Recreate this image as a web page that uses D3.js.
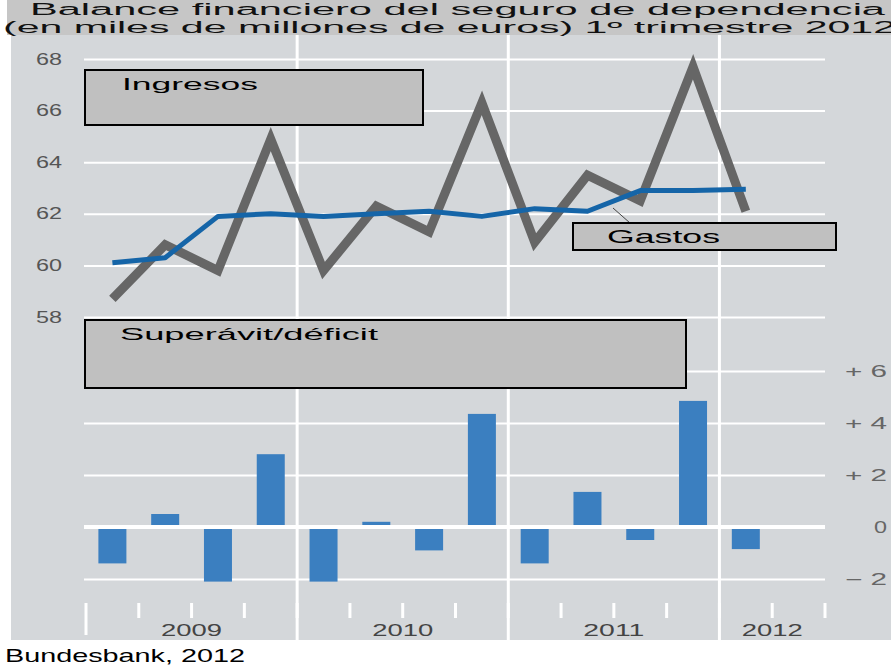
<!DOCTYPE html>
<html>
<head>
<meta charset="utf-8">
<script src="https://cdn.jsdelivr.net/npm/d3@7"></script>
<style>
  body { margin: 0; background: #fff; }
  svg { display: block; font-family: "Liberation Sans", Arial, sans-serif; }
</style>
</head>
<body>
<div id="chart"></div>
<script>
// quarters on the x axis (last one is empty)
const quarters = ["2009T1", "2009T2", "2009T3", "2009T4",
                  "2010T1", "2010T2", "2010T3", "2010T4",
                  "2011T1", "2011T2", "2011T3", "2011T4",
                  "2012T1", "2012T2"];
const years = ["2009", "2010", "2011", "2012"];

// miles de millones de euros
const ingresos = [58.7, 60.8, 59.8, 64.9, 59.8, 62.3, 61.3, 66.3, 60.9, 63.5, 62.5, 67.7, 62.1];
const gastos   = [60.1, 60.3, 61.9, 62.0, 61.9, 62.0, 62.1, 61.9, 62.2, 62.1, 62.9, 62.9, 62.95];
const saldo    = [-1.4, 0.5, -2.1, 2.8, -2.1, 0.2, -0.9, 4.35, -1.4, 1.35, -0.5, 4.85, -0.85];

const topTicks = [58, 60, 62, 64, 66, 68];
const barTicks = [-2, 0, 2, 4, 6];

const width = 891, height = 667;

const svg = d3.select("#chart").append("svg")
    .attr("width", width)
    .attr("height", height);

// stretch text horizontally to a given width
function fit(sel, w) {
    sel.attr("textLength", w).attr("lengthAdjust", "spacingAndGlyphs");
}

// backgrounds
svg.append("rect").attr("x", 7).attr("y", 0).attr("width", width - 7).attr("height", 35).attr("fill", "#c6c6c6");
svg.append("rect").attr("x", 11).attr("y", 35).attr("width", width - 11).attr("height", 605).attr("fill", "#d4d7da");

// title
svg.append("text").attr("x", 30).attr("y", 14.5).attr("font-size", 16).attr("fill", "#111")
    .text("Balance financiero del seguro de dependencia").call(fit, 855);
svg.append("text").attr("x", 3).attr("y", 32.5).attr("font-size", 16).attr("fill", "#111")
    .text("(en miles de millones de euros) 1º trimestre 2012").call(fit, 893);

// scales
const x = d3.scaleBand().domain(quarters).range([86, 825]);
const yTop = d3.scaleLinear().domain([58, 68]).range([317, 59]);
const yBar = d3.scaleLinear().domain([-2, 6]).range([579, 371]);
const gridLeft = 84, gridRight = 825;

// top axis + grid
const axTop = svg.append("g")
    .attr("transform", `translate(${gridLeft},0)`)
    .call(d3.axisLeft(yTop).tickValues(topTicks).tickSize(-(gridRight - gridLeft)).tickPadding(22));
axTop.select(".domain").remove();
axTop.selectAll("line").attr("stroke", "#fff").attr("stroke-width", 2);
axTop.selectAll("text").attr("font-size", 16).attr("fill", "#555").attr("font-family", "Liberation Sans, Arial, sans-serif")
    .call(fit, 26);

// bottom axis + grid
const axBar = svg.append("g")
    .attr("transform", `translate(${gridRight},0)`)
    .call(d3.axisRight(yBar).tickValues(barTicks).tickSize(-(gridRight - gridLeft)).tickPadding(62)
        .tickFormat(d => d > 0 ? "+ " + d : d < 0 ? "\u2212 " + (-d) : "0"));
axBar.select(".domain").remove();
axBar.selectAll("line").attr("stroke", "#fff").attr("stroke-width", 2);
axBar.selectAll("text").attr("font-size", 16).attr("fill", "#666").attr("text-anchor", "end")
    .attr("font-family", "Liberation Sans, Arial, sans-serif")
    .each(function (d) { d3.select(this).call(fit, d === 0 ? 13 : 42); });

// year separators
const yearStarts = years.slice(1).map(yr => x(yr + "T1"));
svg.selectAll(".vgrid").data(yearStarts).enter().append("line")
    .attr("x1", d => d).attr("x2", d => d)
    .attr("y1", 35).attr("y2", 640)
    .attr("stroke", "#fff").attr("stroke-width", 3);

// quarter ticks at the bottom
const bounds = quarters.map(q => x(q)).concat([x.range()[1]]);
svg.selectAll(".qtick").data(bounds).enter().append("line")
    .attr("x1", d => d).attr("x2", d => d)
    .attr("y1", 603)
    .attr("y2", (d, i) => i === 0 ? 635 : 618)
    .attr("stroke", "#fff").attr("stroke-width", 3);

// year labels
svg.selectAll(".year").data(years).enter().append("text")
    .attr("x", yr => {
        const qs = quarters.filter(q => q.startsWith(yr));
        return (x(qs[0]) + x(qs[qs.length - 1]) + x.bandwidth()) / 2;
    })
    .attr("y", 636)
    .attr("text-anchor", "middle")
    .attr("font-size", 16).attr("fill", "#444")
    .text(d => d)
    .call(fit, 61);

// bars
const barW = 28;
svg.selectAll(".bar").data(saldo).enter().append("rect")
    .attr("x", (d, i) => x(quarters[i]) + x.bandwidth() / 2 - barW / 2)
    .attr("width", barW)
    .attr("y", d => yBar(Math.max(0, d)))
    .attr("height", d => Math.abs(yBar(d) - yBar(0)))
    .attr("fill", "#3b7fc0");

// zero line on top of bars
svg.append("line")
    .attr("x1", gridLeft).attr("x2", gridRight)
    .attr("y1", yBar(0)).attr("y2", yBar(0))
    .attr("stroke", "#fff").attr("stroke-width", 4);

// lines
const cx = (d, i) => x(quarters[i]) + x.bandwidth() / 2;
const line = d3.line().x(cx).y(d => yTop(d));

svg.append("path").datum(ingresos)
    .attr("d", line)
    .attr("fill", "none").attr("stroke", "#666").attr("stroke-width", 9)
    .attr("stroke-linejoin", "miter");

svg.append("path").datum(gastos)
    .attr("d", line)
    .attr("fill", "none").attr("stroke", "#1565a8").attr("stroke-width", 5)
    .attr("stroke-linejoin", "round");

// labels boxes
function labelBox(bx, by, bw, bh, label, tx, ty, fs, tw) {
    svg.append("rect").attr("x", bx).attr("y", by).attr("width", bw).attr("height", bh)
        .attr("fill", "#c0c0c0").attr("stroke", "#000").attr("stroke-width", 2);
    svg.append("text").attr("x", tx).attr("y", ty).attr("font-size", fs).attr("fill", "#000")
        .text(label).call(fit, tw);
}

labelBox(85, 70, 338, 55, "Ingresos", 122, 90, 17, 136);

// leader line for Gastos
svg.append("line").attr("x1", 613).attr("y1", 208).attr("x2", 630).attr("y2", 223)
    .attr("stroke", "#444").attr("stroke-width", 1);
labelBox(573, 223, 263, 27, "Gastos", 607, 243, 18, 113);

labelBox(85, 320, 601, 68, "Superávit/déficit", 120, 340, 17, 258);

// source
svg.append("text").attr("x", 5).attr("y", 662).attr("font-size", 19).attr("fill", "#000")
    .text("Bundesbank, 2012").call(fit, 240);
</script>
</body>
</html>
